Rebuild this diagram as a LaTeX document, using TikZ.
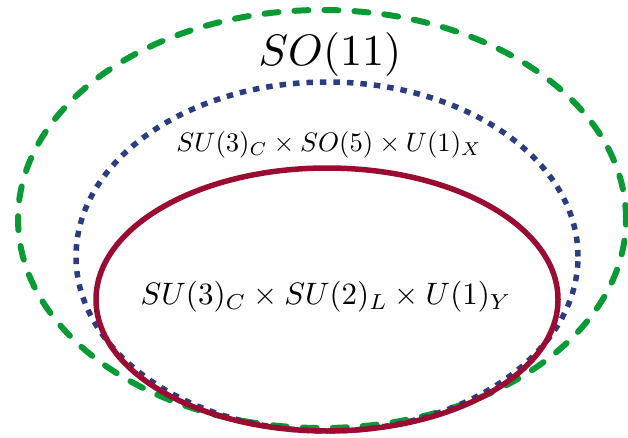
\documentclass[tikz,border=0pt]{standalone}
\usepackage{tikz}

\definecolor{sogreen}{RGB}{8,154,52}
\definecolor{soblue}{RGB}{44,60,128}
\definecolor{smred}{RGB}{155,12,50}

\begin{document}
\begin{tikzpicture}[x=1pt,y=1pt]
\useasboundingbox (0,0) rectangle (628,437);
\draw[sogreen, line width=6pt, line cap=round, dash pattern=on 14pt off 16pt] (322,218) ellipse [x radius=304, y radius=209];
\draw[soblue, line width=5.5pt, dash pattern=on 6.5pt off 7pt] (327,180.5) ellipse [x radius=251, y radius=174.5];
\draw[smred, line width=5.5pt] (327,137.5) ellipse [x radius=231, y radius=131.5];
\node[scale=4.4] (so11) at (330,382) {$SO(11)$};
\node[scale=2.67] (ps) at (329,292) {$SU(3)_C\times SO(5)\times U(1)_X$};
\node[scale=3.1] (sm) at (326,140) {$SU(3)_C\times SU(2)_L\times U(1)_Y$};
\end{tikzpicture}
\end{document}
